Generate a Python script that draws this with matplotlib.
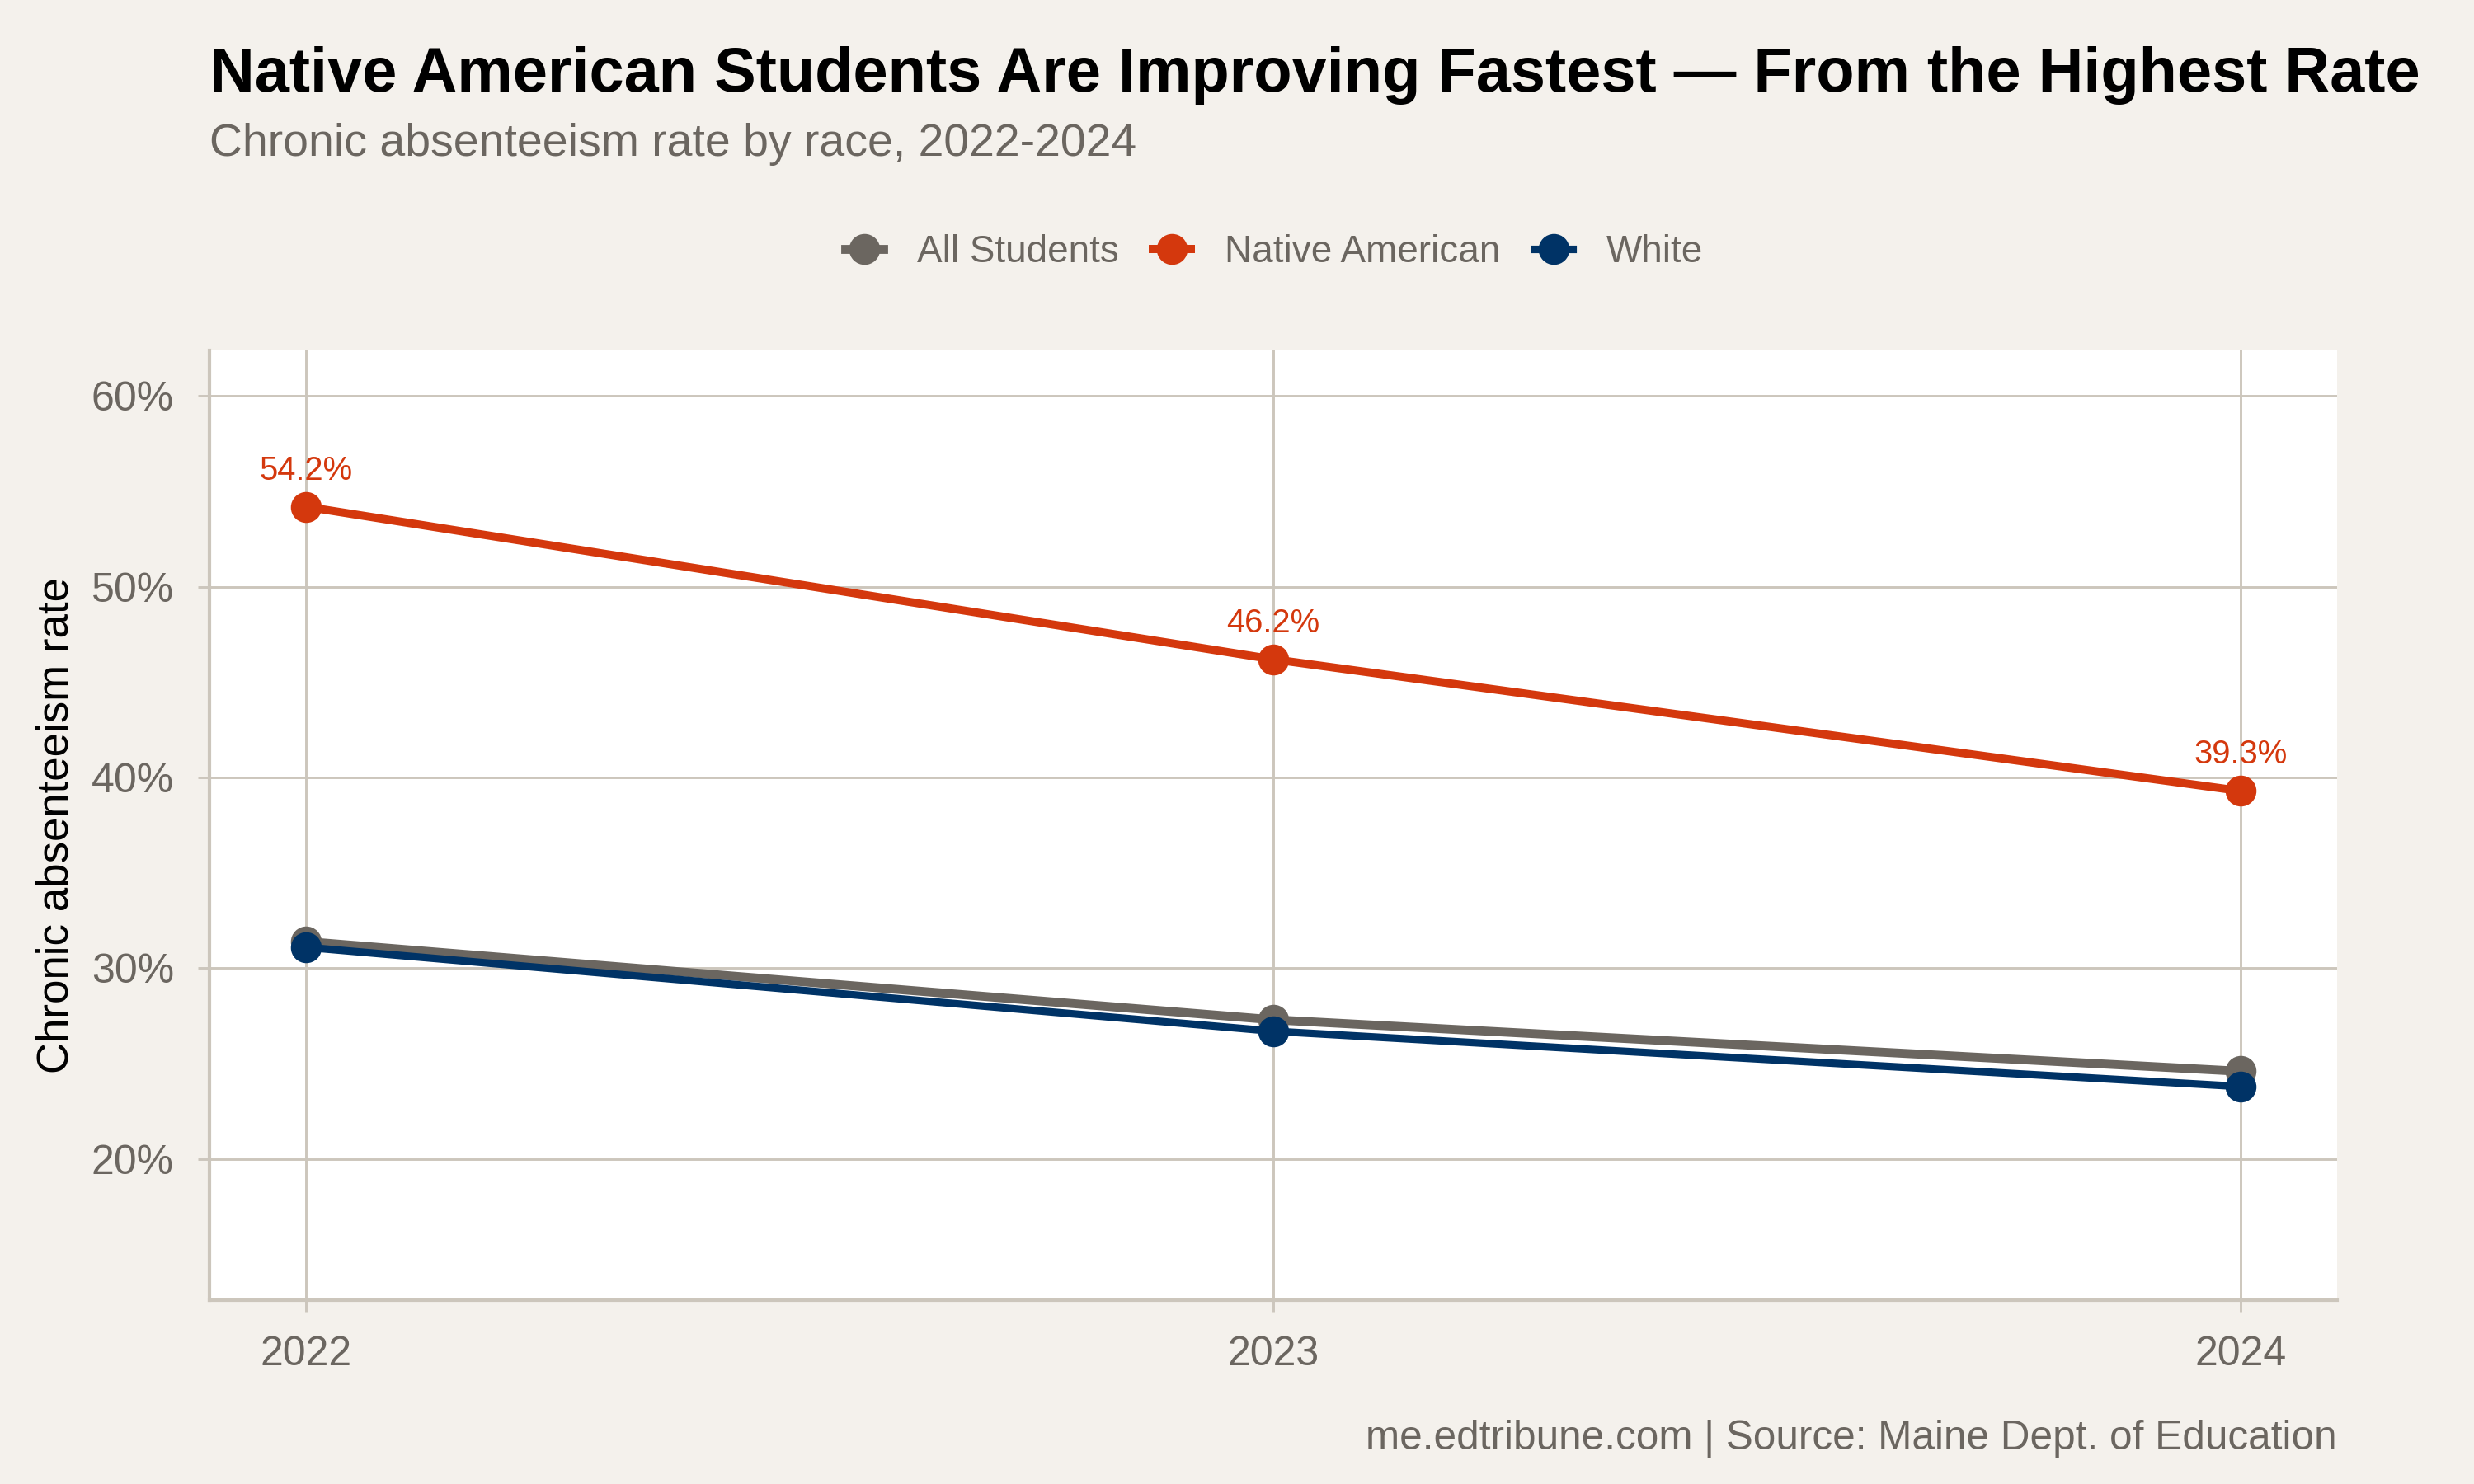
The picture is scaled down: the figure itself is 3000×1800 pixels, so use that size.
import matplotlib.pyplot as plt
from matplotlib.ticker import FuncFormatter

# data
years = [2022, 2023, 2024]
all_students = [31.4, 27.3, 24.6]
native_american = [54.2, 46.2, 39.3]
white = [31.1, 26.7, 23.8]

BG = "#F4F1EC"
GRID = "#CCC6BC"
GREY = "#6B6660"
ORANGE = "#D4380D"
NAVY = "#003366"
TXT = "#6B6660"

plt.rcParams["font.family"] = ["Liberation Sans", "DejaVu Sans"]

fig = plt.figure(figsize=(10, 6), dpi=300, facecolor=BG)
ax = fig.add_axes([0.0847, 0.1239, 0.86, 0.64])
ax.set_facecolor("white")

ax.plot(years, all_students, color=GREY, lw=2.6, marker="o", ms=8, label="All Students", zorder=3)
ax.plot(years, native_american, color=ORANGE, lw=2.4, marker="o", ms=8, label="Native American", zorder=3)
ax.plot(years, white, color=NAVY, lw=2.2, marker="o", ms=8, label="White", zorder=4)

for x, y in zip(years, native_american):
    ax.annotate(f"{y:.1f}%", (x, y), xytext=(0, 6), textcoords="offset points",
                ha="center", va="bottom", fontsize=9.6, color=ORANGE)

ax.set_xlim(2021.9, 2024.1)
ax.set_ylim(12.6, 62.4)
ax.set_xticks(years)
ax.set_xticklabels([str(y) for y in years])
ax.set_yticks([20, 30, 40, 50, 60])
ax.yaxis.set_major_formatter(FuncFormatter(lambda v, _: f"{v:.0f}%"))

ax.grid(True, color=GRID, lw=0.7)
ax.set_axisbelow(True)
for s in ["top", "right"]:
    ax.spines[s].set_visible(False)
for s in ["left", "bottom"]:
    ax.spines[s].set_color(GRID)
    ax.spines[s].set_linewidth(1.0)
ax.tick_params(length=3.4, width=0.7, color=GRID, labelcolor=TXT, labelsize=12, pad=7)

ax.set_ylabel("Chronic absenteeism rate", fontsize=12.7, color="black", labelpad=4)

fig.text(0.0847, 0.949, "Native American Students Are Improving Fastest \u2014 From the Highest Rate",
         fontsize=18.2, fontweight="bold", color="black", va="center", ha="left")
fig.text(0.0847, 0.903, "Chronic absenteeism rate by race, 2022-2024",
         fontsize=13.3, color=TXT, va="center", ha="left")

leg = fig.legend(loc="center", bbox_to_anchor=(0.515, 0.830), ncol=3, frameon=False,
                 fontsize=11, handlelength=1.0, columnspacing=0.9, handletextpad=0.9)
for t in leg.get_texts():
    t.set_color(TXT)

fig.text(0.9447, 0.0306, "me.edtribune.com | Source: Maine Dept. of Education",
         fontsize=11.9, color=TXT, va="center", ha="right")

fig.savefig("out.png", dpi=300, facecolor=BG)
